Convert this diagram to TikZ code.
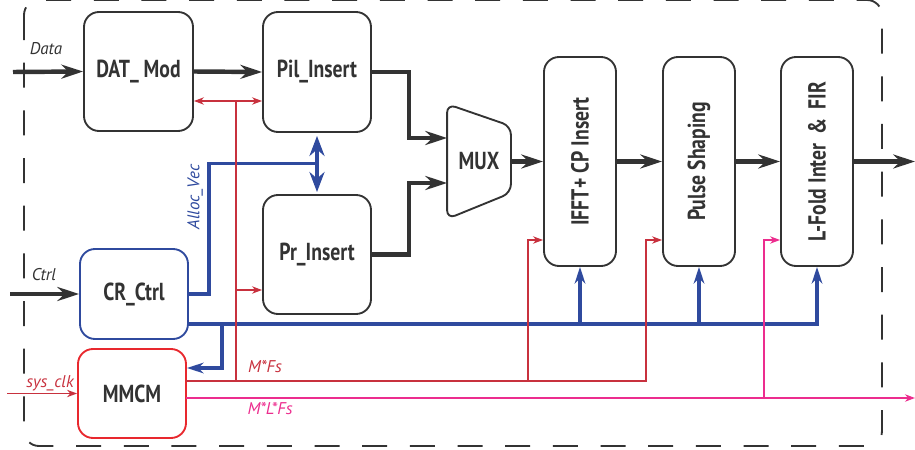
\documentclass[tikz,border=0pt]{standalone}
\usepackage{fontspec}
\setmainfont{PT Sans}
\newfontfamily\blockfont{PT Sans}[FakeStretch=0.8]
\usetikzlibrary{arrows.meta,calc}
\definecolor{ink}{HTML}{333333}
\definecolor{ctlblue}{HTML}{2F4A9E}
\definecolor{clkred}{HTML}{C8313E}
\definecolor{mmcmred}{HTML}{E8282E}
\definecolor{fspink}{HTML}{EC2D8E}

\begin{document}
\begin{tikzpicture}[
  x=0.03cm,y=-0.03cm,
  block/.style={
    draw=ink,
    line width=1.6pt,
    rounded corners=4.5mm,
    fill=white,
    inner sep=0pt,
    text=ink,
    font=\blockfont\bfseries\fontsize{21}{24}\selectfont
  },
  tallblock/.style={
    block,
    minimum width=2.16cm,
    minimum height=6.27cm
  },
  tag/.style={
    inner sep=0pt,
    font=\itshape\fontsize{14.5}{16}\selectfont
  },
  wire/.style={
    ink,
    line width=3.8pt,
    -{Stealth[length=6.5mm,width=4.2mm]}
  },
  alloc/.style={
    ctlblue,
    line width=3.4pt
  },
  bus/.style={
    ctlblue,
    line width=2.8pt
  },
  bustip/.style={
    -{Stealth[length=5mm,width=3.2mm]}
  },
  clkline/.style={
    clkred,
    line width=1.7pt
  },
  fsline/.style={
    fspink,
    line width=1.7pt
  },
  thintip/.style={
    -{Stealth[length=3mm,width=2.2mm]}
  }
]
\useasboundingbox (0,0) rectangle (915,450);

% frame of the modulator
\draw[ink,line width=1.6pt,dash pattern=on .75cm off .68cm,rounded corners=4.5mm]
  (24,0) rectangle (882,446);

% blocks
\node[block,minimum width=3.27cm,minimum height=3.57cm] (dat) at (138.5,71.5) {DAT\_ Mod};
\node[block,minimum width=3.24cm,minimum height=3.6cm] (pil) at (317,72) {Pil\_Insert};
\node[block,minimum width=3.24cm,minimum height=3.57cm] (pr) at (317,254.5) {Pr\_Insert};
\node[block,draw=ctlblue,minimum width=3.24cm,minimum height=2.7cm] (cr) at (134,294) {CR\_Ctrl};
\node[block,draw=mmcmred,minimum width=3.24cm,minimum height=2.67cm] (mmcm) at (132,393.5) {MMCM};

\node[block,draw=none,fill=none,minimum width=1.86cm,minimum height=3.39cm] (mux) at (479,161.5) {MUX};
\draw[ink,line width=1.6pt,rounded corners=2.6mm]
  (mux.north west) -- ($(mux.north east)+(0,22)$)
  -- ($(mux.south east)+(0,-26)$) -- (mux.south west) -- cycle;

\node[tallblock] (ifft) at (580,161.5) {\rotatebox{90}{IFFT+ CP Insert}};
\node[tallblock] (pulse) at (699,161.5) {\rotatebox{90}{Pulse Shaping}};
\node[tallblock] (lfold) at (817,161.5) {\rotatebox{90}{L-Fold Inter \,\&\, FIR}};

% data path
\coordinate (datain) at (13,72);
\coordinate (ctrlin) at (10,294);
\coordinate (outp) at (915,161.5);

\draw[wire] (datain) -- (dat.west);
\node[tag,text=ink] (datatag) at (46,49) {Data};
\draw[wire] (dat.east) -- (pil.west);
\draw[wire] (pil.east) -- ++(37,0) |- ($(mux.west)+(0,-23.5)$);
\draw[wire] (pr.east) -- ++(37,0) |- ($(mux.west)+(0,21.5)$);
\draw[wire] (mux.east) -- (ifft.west);
\draw[wire] (ifft.east) -- (pulse.west);
\draw[wire] (pulse.east) -- (lfold.west);
\draw[wire] (lfold.east) -- (outp);

\draw[wire] (ctrlin) -- (cr.west);
\node[tag,text=ink] (ctrltag) at (44,275) {Ctrl};

% control from CR_Ctrl
\draw[alloc] (cr.east) -- ++(20,0) |- ($(pil.south)!.5!(pr.north)$);
\draw[alloc,{Stealth[length=6mm,width=4.5mm]}-{Stealth[length=6mm,width=4.5mm]}]
  ($(pil.south)+(0,3)$) -- ($(pr.north)+(0,-2)$);
\node[tag,text=ctlblue,rotate=90] (alloctag) at (195,197) {Alloc\_Vec};

\coordinate (busin) at (188,324);
\coordinate (mmcmctl) at (222,324);
\draw[bus,bustip] (busin) -| (lfold.south);
\draw[bus,bustip] (ifft.south |- busin) -- (ifft.south);
\draw[bus,bustip] (pulse.south |- busin) -- (pulse.south);
\draw[bus,bustip] (mmcmctl) |- ($(mmcm.east)+(0,-25.5)$);

% clocks
\coordinate (clkin) at (7,393.5);
\coordinate (rsplit) at (236,101);
\coordinate (prclk) at (236,290);
\coordinate (mfs) at (186,381);
\coordinate (ifftclk) at (528,240);
\coordinate (pulseclk) at (646,240);
\coordinate (mlfs) at (186,398);
\coordinate (lfoldclk) at (764,240);
\coordinate (mlfsout) at (915,398);

\draw[clkline,thintip] (clkin) -- (mmcm.west);
\node[tag,text=clkred] (clktag) at (50,383) {sys\_clk};

\draw[clkline,{Stealth[length=3mm,width=2.2mm]}-{Stealth[length=3mm,width=2.2mm]}]
  (dat.east |- rsplit) -- (pil.west |- rsplit);
\draw[clkline] (rsplit) -- (rsplit |- mfs);
\draw[clkline,thintip] (prclk) -- (pr.west |- prclk);
\draw[clkline,thintip] (mfs) -| (pulseclk) -- (pulse.west |- pulseclk);
\draw[clkline,thintip] (ifftclk |- mfs) -- (ifftclk) -- (ifft.west |- ifftclk);
\node[tag,text=clkred] (mfstag) at (265,367) {M*Fs};

\draw[fsline,thintip] (mlfs) -- (mlfsout);
\draw[fsline,thintip] (lfoldclk |- mlfs) -- (lfoldclk) -- (lfold.west |- lfoldclk);
\node[tag,text=fspink] (mlfstag) at (270,409) {M*L*Fs};

\end{tikzpicture}
\end{document}
